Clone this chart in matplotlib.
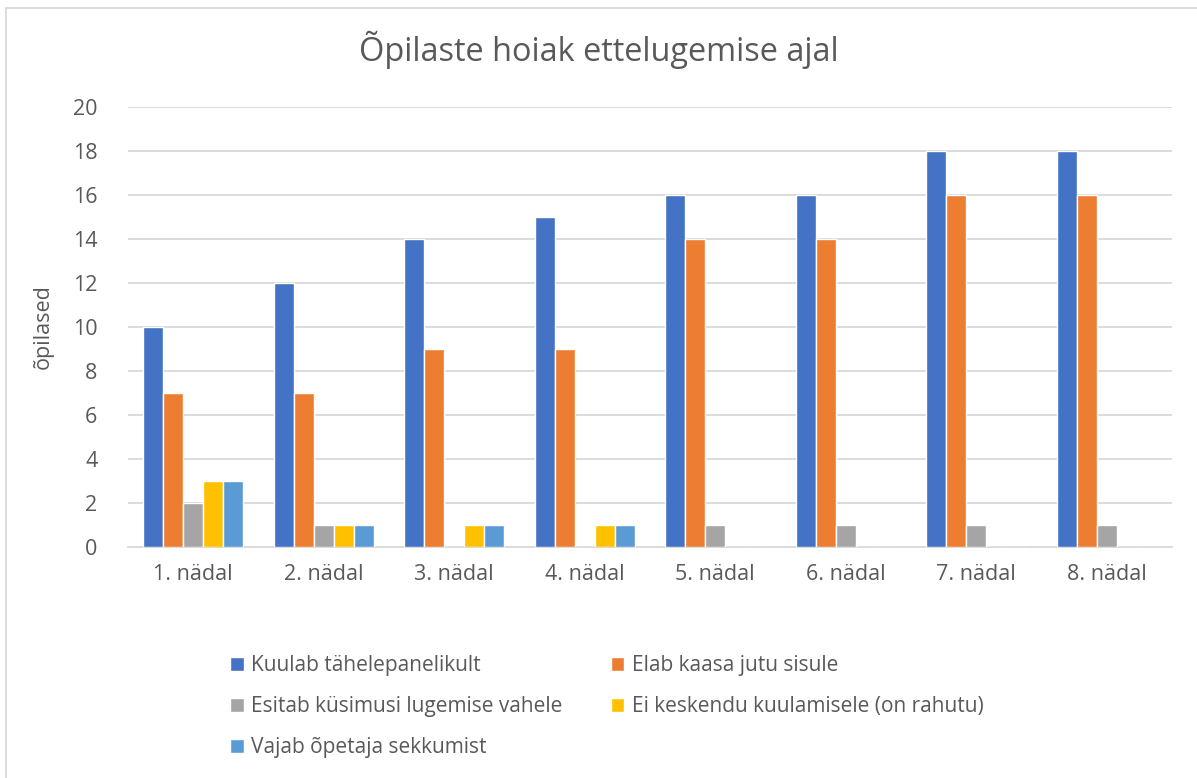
import matplotlib
matplotlib.use("Agg")
import matplotlib.pyplot as plt
from matplotlib.patches import Rectangle
import numpy as np

plt.rcParams['font.family'] = ['Open Sans', 'DejaVu Sans']

# andmed
nadalad = ["1. nädal", "2. nädal", "3. nädal", "4. nädal",
           "5. nädal", "6. nädal", "7. nädal", "8. nädal"]
kuulab = [10, 12, 14, 15, 16, 16, 18, 18]
elab_kaasa = [7, 7, 9, 9, 14, 14, 16, 16]
esitab = [2, 1, 0, 0, 1, 1, 1, 1]
ei_keskendu = [3, 1, 1, 1, 0, 0, 0, 0]
vajab = [3, 1, 1, 1, 0, 0, 0, 0]
sarjad = ["Kuulab tähelepanelikult", "Elab kaasa jutu sisule",
          "Esitab küsimusi lugemise vahele", "Ei keskendu kuulamisele (on rahutu)",
          "Vajab õpetaja sekkumist"]
varvid = ["#4472C4", "#ED7D31", "#A5A5A5", "#FFC000", "#5B9BD5"]

tekst = "#595959"

fig = plt.figure(figsize=(11.97, 7.78), dpi=100)
ax = fig.add_axes([128 / 1197, 1 - 547 / 778, (1172 - 128) / 1197, (547 - 107) / 778])

# raam ümber diagrammi (paremal ja all lõigatud)
fig.patches.append(Rectangle((6 / 1197, -0.1), 1.2, 1 - 8 / 778 + 0.1,
                             transform=fig.transFigure, fill=False,
                             edgecolor="#D9D9D9", linewidth=1.3))

x = np.arange(len(nadalad))
laius = 0.153
koik = [kuulab, elab_kaasa, esitab, ei_keskendu, vajab]
for i, (vaartused, nimi, v) in enumerate(zip(koik, sarjad, varvid)):
    ax.bar(x + (i - 2) * laius, vaartused, laius, color=v, label=nimi,
           edgecolor="white", linewidth=1.0, zorder=3)

ax.set_xlim(-0.5, len(nadalad) - 0.5)
ax.set_ylim(0, 20)
ax.set_yticks(range(0, 21, 2))
ax.set_xticks(x)
ax.set_xticklabels(nadalad)
ax.tick_params(axis="both", length=0, labelsize=15.5, colors=tekst)
ax.tick_params(axis="y", pad=22)
ax.tick_params(axis="x", pad=12)
ax.grid(axis="y", color="#D9D9D9", linewidth=1.3, zorder=0)
for s in ["top", "right", "left"]:
    ax.spines[s].set_visible(False)
ax.spines["bottom"].set_color("#D9D9D9")
ax.spines["bottom"].set_linewidth(1.3)

ax.set_ylabel("õpilased", fontsize=15.5, color=tekst, labelpad=14)
fig.text(0.5, 1 - 50 / 778, "Õpilaste hoiak ettelugemise ajal", ha="center",
         va="center", fontsize=23.4, color=tekst)

h, l = ax.get_legend_handles_labels()
jrk = [0, 2, 4, 1, 3]
fig.legend([h[k] for k in jrk], [l[k] for k in jrk], ncol=2, frameon=False,
           loc="upper left", bbox_to_anchor=(220 / 1197, 1 - 645 / 778),
           borderpad=0, fontsize=15, labelcolor=tekst, handlelength=0.63,
           handleheight=0.63, handletextpad=0.38, labelspacing=0.96,
           columnspacing=2.3)

fig.savefig("out.png", dpi=100, facecolor="white")
